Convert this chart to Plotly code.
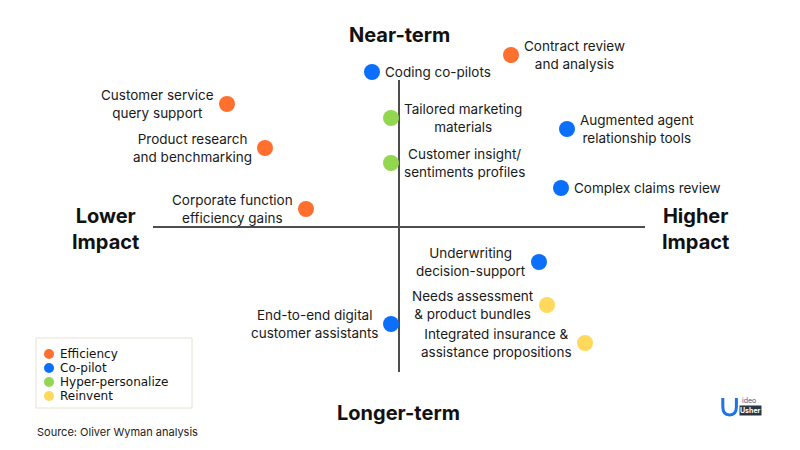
import plotly.graph_objects as go

# ---- data (impact: horizontal, term: vertical; arbitrary units centered on the cross) ----
items = [
    "Contract review<br>and analysis",
    "Coding co-pilots",
    "Customer service<br>query support",
    "Tailored marketing<br>materials",
    "Augmented agent<br>relationship tools",
    "Product research<br>and benchmarking",
    "Customer insight/<br>sentiments profiles",
    "Complex claims review",
    "Corporate function<br>efficiency gains",
    "Underwriting<br>decision-support",
    "Needs assessment<br>& product bundles",
    "End-to-end digital<br>customer assistants",
    "Integrated insurance &<br>assistance propositions",
]
impact = [11.2, -2.7, -17.2, -0.8, 16.8, -13.4, -0.8, 16.2, -9.3, 14.0, 14.8, -0.8, 18.6]
term = [17.2, 15.5, 12.3, 10.9, 9.8, 7.9, 6.4, 3.9, 1.8, -3.5, -7.8, -9.7, -11.6]
category = ["Efficiency", "Co-pilot", "Efficiency", "Hyper-personalize", "Co-pilot",
            "Efficiency", "Hyper-personalize", "Co-pilot", "Efficiency", "Co-pilot",
            "Reinvent", "Co-pilot", "Reinvent"]
label_side = ["right", "right", "left", "right", "right", "left", "right", "right",
              "left", "left", "left", "left", "left"]

categories = ["Efficiency", "Co-pilot", "Hyper-personalize", "Reinvent"]
colors = {"Efficiency": "#FF6F2E", "Co-pilot": "#0B6FFB",
          "Hyper-personalize": "#93D650", "Reinvent": "#FFD95C"}

axis_x_extent = [-24.6, 24.6]
axis_y_extent = [-14.5, 14.7]
x_range = [-39.9, 40.1]
y_range = [-22.3, 22.7]

LABEL_FONT = "Inter"
TITLE_FONT = "Inter"
LEGEND_FONT = "DejaVu Sans"
W, H = 800, 450

fig = go.Figure()

# axis cross lines
fig.add_trace(go.Scatter(x=axis_x_extent, y=[0, 0], mode="lines",
                         line=dict(color="#4d4d4d", width=2), showlegend=False, hoverinfo="skip"))
fig.add_trace(go.Scatter(x=[0, 0], y=axis_y_extent, mode="lines",
                         line=dict(color="#4d4d4d", width=2), showlegend=False, hoverinfo="skip"))

for cat in categories:
    idx = [i for i, c in enumerate(category) if c == cat]
    fig.add_trace(go.Scatter(
        x=[impact[i] for i in idx], y=[term[i] for i in idx], mode="markers",
        marker=dict(size=16, color=colors[cat]), name=cat, showlegend=False))

for i, txt in enumerate(items):
    right = label_side[i] == "right"
    fig.add_annotation(x=impact[i], y=term[i], text=txt, showarrow=False,
                       xanchor="left" if right else "right", yanchor="middle",
                       xshift=11 if right else -11, align="center",
                       font=dict(family=LABEL_FONT, size=13.5, color="#1a1a1a"))

# quadrant titles
titles = [("<b>Near-term</b>", 399 / W, 1 - 35 / H),
          ("<b>Longer-term</b>", 398 / W, 1 - 413 / H),
          ("<b>Lower<br>Impact</b>", 105 / W, 1 - 229 / H),
          ("<b>Higher<br>Impact</b>", 695 / W, 1 - 229 / H)]
for t, x, y in titles:
    fig.add_annotation(x=x, y=y, xref="paper", yref="paper", text=t, showarrow=False,
                       xanchor="center", yanchor="middle", align="center",
                       font=dict(family=TITLE_FONT, size=20, color="#111111"))

# custom legend
fig.add_shape(type="rect", xref="paper", yref="paper",
              x0=36 / W, x1=192 / W, y0=1 - 408 / H, y1=1 - 338 / H,
              line=dict(color="#e8e2d0", width=1), fillcolor="white", layer="below")
for k, cat in enumerate(categories):
    cy = 354 + 14 * k
    fig.add_shape(type="circle", xref="paper", yref="paper",
                  x0=44 / W, x1=54 / W, y0=1 - (cy + 5) / H, y1=1 - (cy - 5) / H,
                  line=dict(width=0), fillcolor=colors[cat])
    fig.add_annotation(x=58 / W, y=1 - cy / H, xref="paper", yref="paper", text=cat,
                       showarrow=False, xanchor="left", yanchor="middle",
                       font=dict(family=LEGEND_FONT, size=12, color="#111111"))

fig.add_annotation(x=35 / W, y=1 - 432 / H, xref="paper", yref="paper",
                   text="Source: Oliver Wyman analysis", showarrow=False,
                   xanchor="left", yanchor="middle",
                   font=dict(family=TITLE_FONT, size=11, color="#222222"))

# small logo approximation
fig.add_shape(type="path", xref="paper", yref="paper",
              path="M 0.9035 0.1155 L 0.9035 0.0960 Q 0.9035 0.0780 0.9120 0.0780 Q 0.9205 0.0780 0.9205 0.0960 L 0.9205 0.1155",
              line=dict(color="#1E73E8", width=3))
fig.add_annotation(x=740 / W, y=1 - 400 / H, xref="paper", yref="paper", text="ideo",
                   showarrow=False, xanchor="left", yanchor="middle",
                   font=dict(family=TITLE_FONT, size=7, color="#3a5a8a"))
fig.add_annotation(x=739 / W, y=1 - 410 / H, xref="paper", yref="paper", text="<b>Usher</b>",
                   showarrow=False, xanchor="left", yanchor="middle", bgcolor="#2a3546",
                   borderpad=0, font=dict(family=TITLE_FONT, size=7, color="#ffffff"))

fig.update_layout(
    width=W, height=H, margin=dict(l=0, r=0, t=0, b=0),
    paper_bgcolor="white", plot_bgcolor="white", showlegend=False,
    xaxis=dict(range=x_range, visible=False, fixedrange=True),
    yaxis=dict(range=y_range, visible=False, fixedrange=True),
    font=dict(family=LABEL_FONT),
)

fig.write_html("out.html")
